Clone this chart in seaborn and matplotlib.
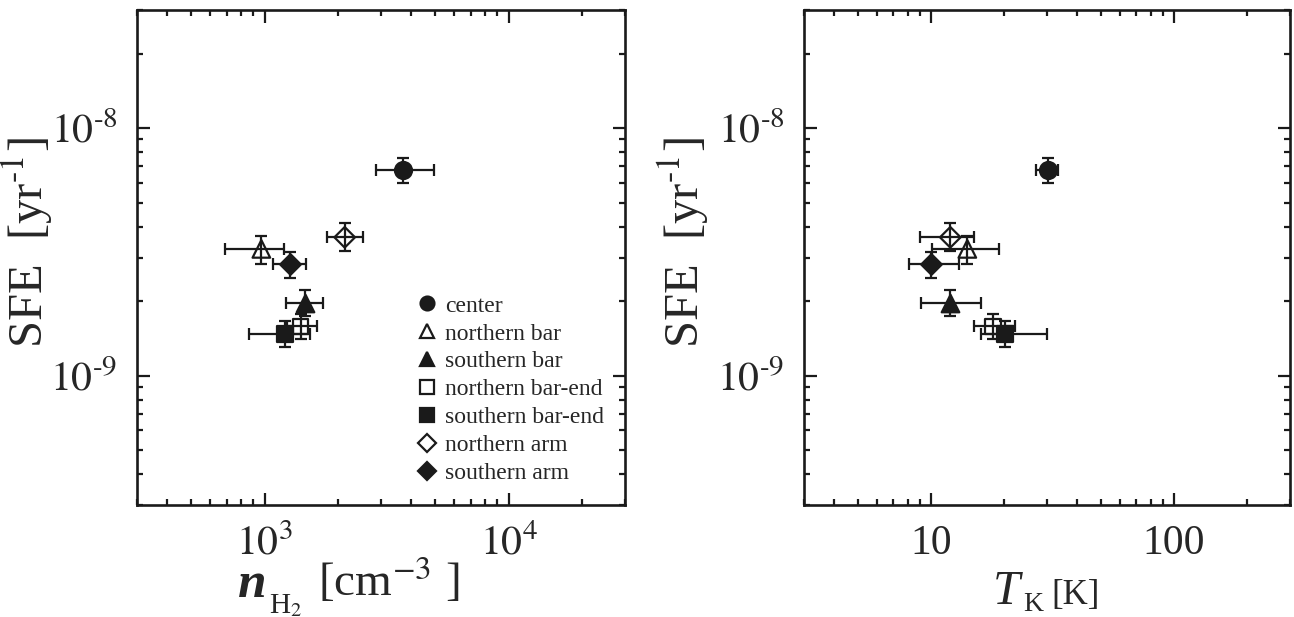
"""
SFE vs molecular gas density and kinetic temperature, per galaxy region
"""

import matplotlib
matplotlib.use("Agg")
import matplotlib.pyplot as plt
from matplotlib.lines import Line2D
from matplotlib.ticker import LogLocator, FixedLocator, FixedFormatter, NullFormatter
import numpy as np
import pandas as pd
import seaborn as sns

sns.set_theme(style="ticks")
plt.rcParams["font.family"] = ["Liberation Serif", "DejaVu Serif"]
plt.rcParams["mathtext.fontset"] = "stix"

# data
regions = ["center", "northern bar", "southern bar", "northern bar-end",
           "southern bar-end", "northern arm", "southern arm"]

n_h2 = [3680, 970, 1470, 1406, 1210, 2130, 1270]
n_h2_lo = [2850, 690, 1220, 1230, 863, 1800, 1085]
n_h2_hi = [4950, 1200, 1740, 1645, 1530, 2540, 1475]

t_k = [30.3, 14.1, 12.0, 18.0, 20.1, 12.0, 10.0]
t_k_lo = [27.1, 10.1, 9.1, 15.0, 16.1, 9.0, 8.1]
t_k_hi = [33.3, 19.1, 16.0, 22.1, 30.1, 15.0, 13.0]

sfe = [6.77e-9, 3.25e-9, 1.96e-9, 1.58e-9, 1.47e-9, 3.62e-9, 2.82e-9]
sfe_lo = [5.98e-9, 2.83e-9, 1.74e-9, 1.40e-9, 1.31e-9, 3.19e-9, 2.49e-9]
sfe_hi = [7.59e-9, 3.68e-9, 2.21e-9, 1.78e-9, 1.66e-9, 4.13e-9, 3.17e-9]

df = pd.DataFrame({
    "region": regions,
    "n_h2": n_h2, "n_h2_lo": n_h2_lo, "n_h2_hi": n_h2_hi,
    "t_k": t_k, "t_k_lo": t_k_lo, "t_k_hi": t_k_hi,
    "sfe": sfe, "sfe_lo": sfe_lo, "sfe_hi": sfe_hi,
})

# marker style per region
markers = {"center": "o", "northern bar": "^", "southern bar": "^",
           "northern bar-end": "s", "southern bar-end": "s",
           "northern arm": "D", "southern arm": "D"}
filled = {"center": True, "northern bar": False, "southern bar": True,
          "northern bar-end": False, "southern bar-end": True,
          "northern arm": False, "southern arm": True}
msize = {"o": 150, "^": 160, "s": 120, "D": 110}

INK = "#1a1a1a"
LW = 1.6


def draw_panel(ax, xcol):
    for _, r in df.iterrows():
        xerr = [[r[xcol] - r[xcol + "_lo"]], [r[xcol + "_hi"] - r[xcol]]]
        yerr = [[r["sfe"] - r["sfe_lo"]], [r["sfe_hi"] - r["sfe"]]]
        ax.errorbar(r[xcol], r["sfe"], xerr=xerr, yerr=yerr, fmt="none",
                    ecolor=INK, elinewidth=LW, capsize=4.5,
                    capthick=LW, zorder=2)
    for reg in regions:
        sub = df[df["region"] == reg]
        m = markers[reg]
        sns.scatterplot(data=sub, x=xcol, y="sfe", marker=m, s=msize[m],
                        facecolor=INK if filled[reg] else "none",
                        edgecolor=INK, linewidth=LW, ax=ax, zorder=3,
                        legend=False)

    ax.set_xscale("log")
    ax.set_yscale("log")
    ax.set_ylim(3e-10, 3e-8)
    ax.yaxis.set_major_locator(FixedLocator([1e-9, 1e-8]))
    ax.yaxis.set_major_formatter(FixedFormatter([r"$10^{\text{-}9}$", r"$10^{\text{-}8}$"]))
    ax.yaxis.set_minor_locator(LogLocator(base=10, subs=np.arange(2, 10), numticks=20))
    ax.yaxis.set_minor_formatter(NullFormatter())
    ax.set_ylabel(r"SFE  [yr$^{\text{-}1}$]", fontsize=35)
    ax.set_xlabel("")

    ax.tick_params(which="both", direction="in", top=True, right=True,
                   width=LW, color=INK, labelsize=30, pad=14)
    ax.tick_params(which="major", length=9)
    ax.tick_params(which="minor", length=4.5)
    for sp in ax.spines.values():
        sp.set_linewidth(LW + 0.3)
        sp.set_color(INK)
    ax.grid(False)


W, H = 1294, 617
fig = plt.figure(figsize=(W / 100, H / 100), dpi=100)
ax1 = fig.add_axes([137 / W, 112 / H, 488 / W, 495 / H])
ax2 = fig.add_axes([804 / W, 112 / H, 486 / W, 495 / H])

draw_panel(ax1, "n_h2")
ax1.set_xlim(300, 30000)
ax1.xaxis.set_major_locator(FixedLocator([1e3, 1e4]))
ax1.xaxis.set_major_formatter(FixedFormatter([r"$10^{3}$", r"$10^{4}$"]))
ax1.xaxis.set_minor_locator(LogLocator(base=10, subs=np.arange(2, 10), numticks=20))
ax1.xaxis.set_minor_formatter(NullFormatter())
ax1.yaxis.set_label_coords(-0.168, 0.53)

draw_panel(ax2, "t_k")
ax2.set_xlim(3, 300)
ax2.xaxis.set_major_locator(FixedLocator([10, 100]))
ax2.xaxis.set_major_formatter(FixedFormatter(["10", "100"]))
ax2.xaxis.set_minor_locator(LogLocator(base=10, subs=np.arange(2, 10), numticks=20))
ax2.xaxis.set_minor_formatter(NullFormatter())
ax2.yaxis.set_label_coords(-0.192, 0.53)


def px(x, y):
    return x / W, 1 - y / H


# x-axis titles, built from pieces so the variable can be larger
fig.text(*px(238, 597), "n", fontsize=37, style="italic", weight="bold",
         ha="left", va="baseline")
fig.text(*px(269, 613), r"H$_2$", fontsize=21, ha="left", va="baseline")
fig.text(*px(318, 596), r"[cm$^{-3}$ ]", fontsize=34, ha="left", va="baseline")

fig.text(*px(993, 604), "T", fontsize=35, style="italic",
         ha="left", va="baseline")
fig.text(*px(1023, 611), "K", fontsize=20, ha="left", va="baseline")
fig.text(*px(1051, 604), "[K]", fontsize=25, ha="left", va="baseline")

# legend in the left panel
handles = [
    Line2D([], [], linestyle="none", marker=markers[reg],
           markersize=10 if markers[reg] != "D" else 9,
           markerfacecolor=INK if filled[reg] else "none",
           markeredgecolor=INK, markeredgewidth=LW)
    for reg in regions
]
ax1.legend(handles, regions, loc="upper left", bbox_to_anchor=(0.575, 0.424),
           frameon=False, fontsize=17, handlelength=0.8, handletextpad=0.35,
           labelspacing=0.27, borderpad=0, borderaxespad=0)

fig.savefig("out.png", dpi=100)
plt.close(fig)
